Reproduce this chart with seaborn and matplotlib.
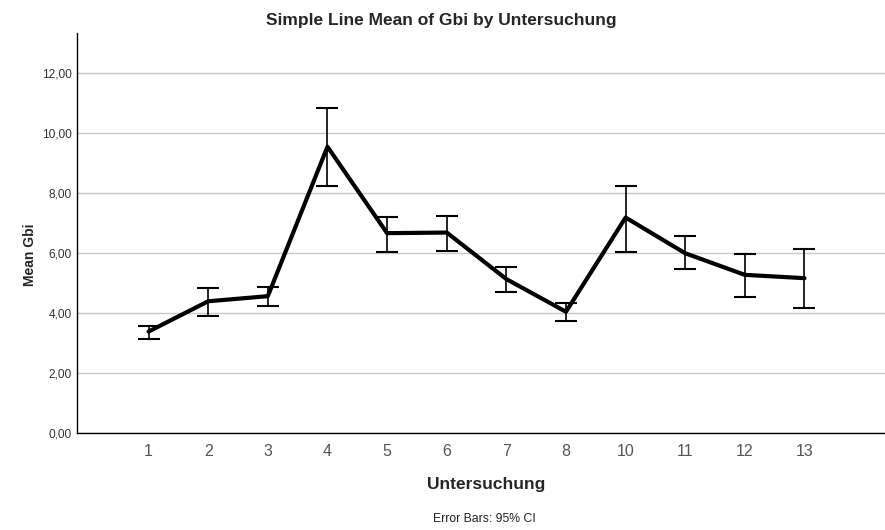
import numpy as np
import pandas as pd
import matplotlib
matplotlib.use("Agg")
import matplotlib.pyplot as plt
import seaborn as sns

sns.set_style("white")
plt.rcParams['font.family'] = ['Liberation Sans', 'DejaVu Sans']

# Werte
untersuchung = ['1', '2', '3', '4', '5', '6', '7', '8', '10', '11', '12', '13']
mean_gbi = [3.38, 4.39, 4.56, 9.54, 6.66, 6.68, 5.13, 4.04, 7.18, 5.99, 5.27, 5.16]
ci_low = [3.12, 3.90, 4.24, 8.22, 6.04, 6.07, 4.69, 3.74, 6.03, 5.48, 4.52, 4.17]
ci_high = [3.55, 4.84, 4.87, 10.84, 7.21, 7.22, 5.53, 4.34, 8.23, 6.57, 5.96, 6.14]

df = pd.DataFrame({'Untersuchung': untersuchung, 'Mean Gbi': mean_gbi})

fig = plt.figure(figsize=(8.85, 5.3), dpi=100)
ax = fig.add_axes([77 / 885, 1 - 433 / 530, 808 / 885, 400 / 530])

# Fehlerbalken (95% CI)
yerr = [np.array(mean_gbi) - np.array(ci_low), np.array(ci_high) - np.array(mean_gbi)]
sns.lineplot(data=df, x='Untersuchung', y='Mean Gbi', color='black', linewidth=3, ax=ax, sort=False)
ax.errorbar(untersuchung, mean_gbi, yerr=yerr, fmt='none', ecolor='black',
            elinewidth=1.2, capsize=8, capthick=1.5, zorder=3)

ax.set_xlim(-1.2, 12.35)
ax.set_ylim(0, 13.33)
ax.set_yticks(np.arange(0, 13, 2))
ax.set_yticklabels([f"{v:.2f}".replace('.', ',') for v in np.arange(0, 13, 2)],
                   fontsize=8.6, color='#333333')
ax.tick_params(axis='x', labelsize=11.5, colors='#555555', length=0, pad=8)
ax.tick_params(axis='y', length=0, pad=4)
ax.grid(axis='y', color='#c8c8c8', linewidth=1)
ax.set_axisbelow(True)

for side in ['top', 'right']:
    ax.spines[side].set_visible(False)
for side in ['left', 'bottom']:
    ax.spines[side].set_color('black')
    ax.spines[side].set_linewidth(1)

ax.set_xlabel('Untersuchung', fontsize=12.5, fontweight='bold')
ax.set_ylabel('Mean Gbi', fontsize=10, fontweight='bold')
ax.xaxis.set_label_coords((486 - 77) / 808, (433 - 485) / 400)
ax.yaxis.set_label_coords((30 - 77) / 808, (433 - 255) / 400)
ax.xaxis.label.set_va('center')
ax.yaxis.label.set_va('center')
fig.text(441 / 885, 1 - 21 / 530, 'Simple Line Mean of Gbi by Untersuchung',
         ha='center', va='center', fontsize=12.5, fontweight='bold')
fig.text(484 / 885, 1 - 519 / 530, 'Error Bars: 95% CI', ha='center', va='center',
         fontsize=8.8, color='#222222')

fig.savefig('out.png', dpi=100)
